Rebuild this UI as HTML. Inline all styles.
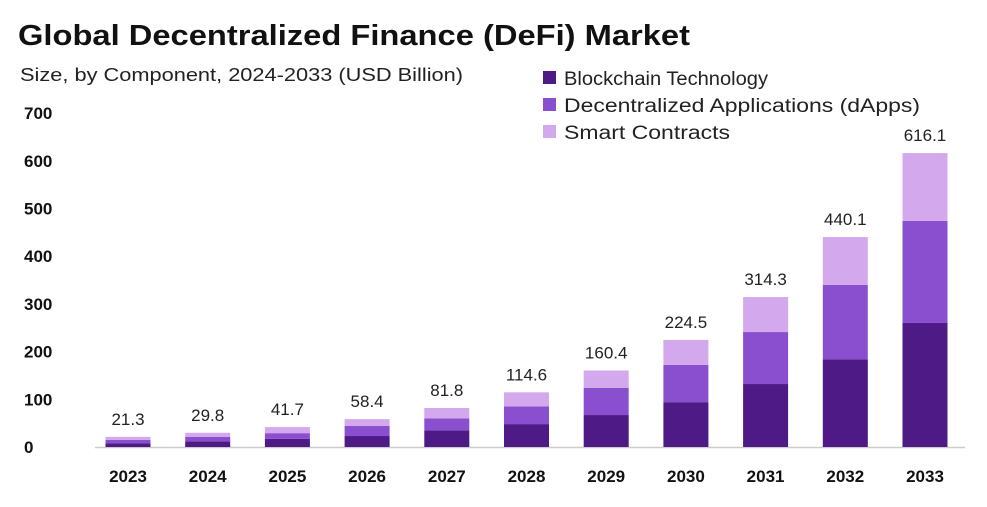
<!DOCTYPE html>
<html><head><meta charset="utf-8"><style>
body{margin:0;background:#fff;font-family:"Liberation Sans",sans-serif;}
svg{display:block}
</style></head><body>
<svg id="c" width="987" height="507">
<text x="18" y="45" font-size="29" font-weight="bold" fill="#111" textLength="672" lengthAdjust="spacingAndGlyphs">Global Decentralized Finance (DeFi) Market</text>
<text x="20" y="81" font-size="18" fill="#222" textLength="443" lengthAdjust="spacingAndGlyphs">Size, by Component, 2024-2033 (USD Billion)</text>
<g>
<rect x="543" y="71" width="13" height="13" fill="#4d1a86"/>
<text x="564" y="85" font-size="19" fill="#222" textLength="204" lengthAdjust="spacingAndGlyphs">Blockchain Technology</text>
<rect x="543" y="98" width="13" height="13" fill="#8a4fcf"/>
<text x="564" y="112" font-size="19" fill="#222" textLength="356" lengthAdjust="spacingAndGlyphs">Decentralized Applications (dApps)</text>
<rect x="543" y="125" width="13" height="13" fill="#d3a8ec"/>
<text x="564" y="139" font-size="19" fill="#222" textLength="166" lengthAdjust="spacingAndGlyphs">Smart Contracts</text>
</g>
<g id="plot"></g>
</svg>
<script>
const years=["2023","2024","2025","2026","2027","2028","2029","2030","2031","2032","2033"];
const blockchain=[8,12,17,23,35,48,67,94,132,184,260];
const dapps=[7,9,12,21,25,37,57,78,109,156,214];
const totals=[21.3,29.8,41.7,58.4,81.8,114.6,160.4,224.5,314.3,440.1,616.1];
const yTicks=[0,100,200,300,400,500,600,700];
const NS="http://www.w3.org/2000/svg";
const g=document.getElementById('plot');
const base=447, k=0.477;
const y=v=>base-v*k;
const x=i=>128+i*79.7;
const bw=45;
function mk(t,a){const e=document.createElementNS(NS,t);for(const n in a)e.setAttribute(n,a[n]);g.appendChild(e);return e;}
yTicks.forEach(t=>{const e=mk('text',{x:24,y:y(t)+6,'font-size':17,'font-weight':'bold',fill:'#111'});e.textContent=t;

});
const ax=mk('line',{x1:95,x2:965,y1:base+0.5,y2:base+0.5,stroke:'#ccc','stroke-width':1.5});


years.forEach((yr,i)=>{
 const b=blockchain[i],d=dapps[i],tot=totals[i],s=Math.max(tot-b-d,0);
 const cx=x(i),x0=cx-bw/2;
 const r1=mk('rect',{x:x0,y:y(b),width:bw,height:b*k,fill:'#4d1a86'});
 
 
 const r2=mk('rect',{x:x0,y:y(b+d),width:bw,height:d*k,fill:'#8a4fcf'});
 
 
 const r3=mk('rect',{x:x0,y:y(tot),width:bw,height:s*k,fill:'#d3a8ec'});
 
 
 const l=mk('text',{x:cx,y:y(tot)-12,'font-size':17,fill:'#222','text-anchor':'middle'});l.textContent=tot;
 
 
 const xl=mk('text',{x:cx,y:482,'font-size':17,'font-weight':'bold',fill:'#111','text-anchor':'middle'});xl.textContent=yr;
 
 
});
</script>
</body></html>
